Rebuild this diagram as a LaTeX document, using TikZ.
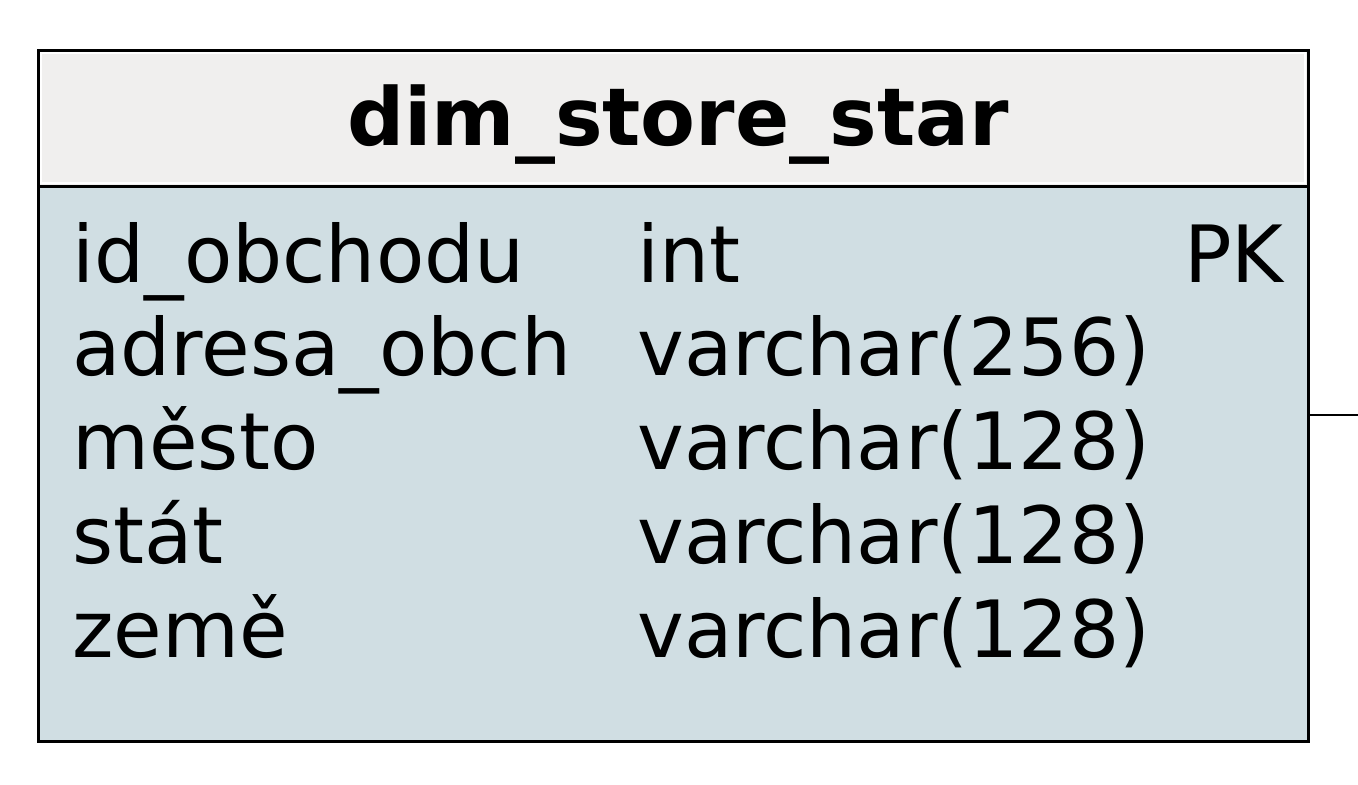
\documentclass[tikz,border=0pt]{standalone}
\usepackage{fontspec}
\setmainfont{DejaVu Sans}
\begin{document}
\begin{tikzpicture}[x=0.5pt,y=-0.5pt,
  hdrbox/.style={draw=black,line width=1.4pt,fill=hdrfill,inner sep=0pt,minimum width=635pt,minimum height=68pt},
  bodybox/.style={draw=black,line width=1.4pt,fill=bodyfill,inner sep=0pt,minimum width=635pt,minimum height=277.5pt},
  cell/.style={inner sep=0pt,font=\fontsize{39.5}{47}\selectfont},
  titletext/.style={inner sep=0pt,font=\fontsize{40}{48}\selectfont\bfseries}]
\definecolor{hdrfill}{HTML}{F0EFEE}
\definecolor{bodyfill}{HTML}{D0DEE3}
\useasboundingbox[fill=white] (0,0) rectangle (1358,784);
\node[bodybox,anchor=north west] (body) at (37,185) {};
\node[hdrbox,anchor=north west] (hdr) at (37,49) {};
\draw[white,line width=1pt] ([shift={(2.2pt,-2.2pt)}]hdr.north west) rectangle ([shift={(-2.2pt,2.2pt)}]hdr.south east);
\node[titletext,anchor=base] (title) at (678,145) {dim\_store\_star};
\node[cell,anchor=base west] (n1) at (72,282) {id\_obchodu};
\node[cell,anchor=base west] (n2) at (72,375) {adresa\_obch};
\node[cell,anchor=base west] (n3) at (72,469) {město};
\node[cell,anchor=base west] (n4) at (72,563) {stát};
\node[cell,anchor=base west] (n5) at (72,657) {země};
\node[cell,anchor=base west] (t1) at (637,282) {int};
\node[cell,anchor=base west] (t2) at (637,375) {varchar(256)};
\node[cell,anchor=base west] (t3) at (637,469) {varchar(128)};
\node[cell,anchor=base west] (t4) at (637,563) {varchar(128)};
\node[cell,anchor=base west] (t5) at (637,657) {varchar(128)};
\node[cell,anchor=base east] (pk) at (1284,282) {PK};
\coordinate (linkend) at (1358,415);
\draw[black,line width=1.4pt] (body.east |- linkend) -- (linkend);
\end{tikzpicture}
\end{document}
